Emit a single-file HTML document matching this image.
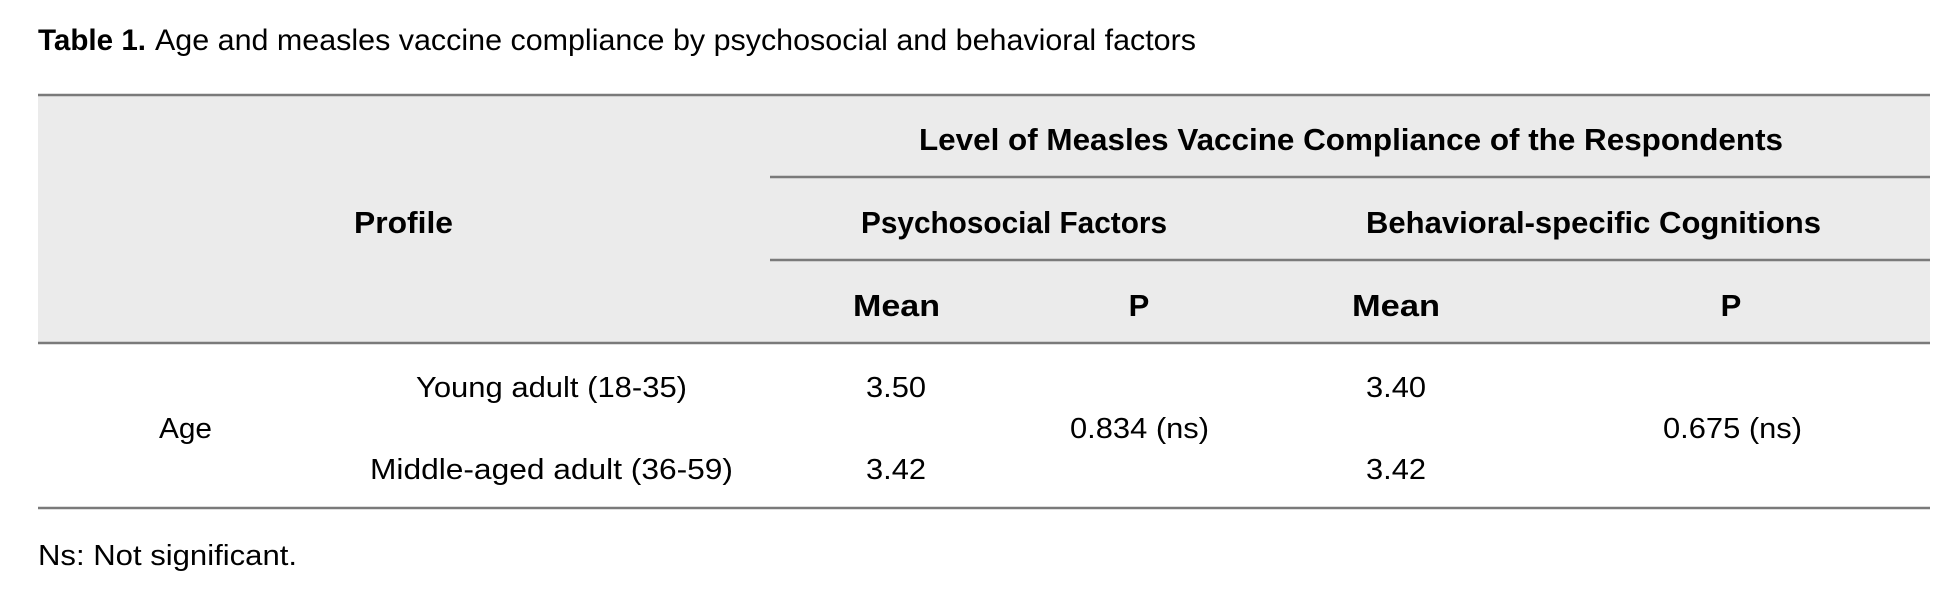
<!DOCTYPE html>
<html><head><meta charset="utf-8"><style>
html,body{margin:0;padding:0;background:#fff;width:1942px;height:610px;overflow:hidden}
svg{display:block}
text{font-family:"Liberation Sans",sans-serif;fill:#000}
.b{font-weight:bold}
</style></head><body>
<svg width="1942" height="610" viewBox="0 0 1942 610" xmlns="http://www.w3.org/2000/svg">
<rect x="38" y="95" width="1892" height="248" fill="#ebebeb"/>
<g stroke="#7a7a7a" stroke-width="2.5">
<line x1="38" y1="95" x2="1930" y2="95"/>
<line x1="770" y1="177" x2="1930" y2="177"/>
<line x1="770" y1="260" x2="1930" y2="260"/>
<line x1="38" y1="343" x2="1930" y2="343"/>
<line x1="38" y1="508" x2="1930" y2="508"/>
</g>
<text class="b" x="38" y="50" font-size="30" textLength="108" lengthAdjust="spacingAndGlyphs">Table 1.</text>
<text x="155" y="50" font-size="30" textLength="1041" lengthAdjust="spacingAndGlyphs">Age and measles vaccine compliance by psychosocial and behavioral factors</text>

<text class="b" x="919" y="150" font-size="31" textLength="864" lengthAdjust="spacingAndGlyphs">Level of Measles Vaccine Compliance of the Respondents</text>
<text class="b" x="354" y="233" font-size="31" textLength="99" lengthAdjust="spacingAndGlyphs">Profile</text>
<text class="b" x="861" y="233" font-size="31" textLength="306" lengthAdjust="spacingAndGlyphs">Psychosocial Factors</text>
<text class="b" x="1366" y="233" font-size="31" textLength="455" lengthAdjust="spacingAndGlyphs">Behavioral-specific Cognitions</text>
<text class="b" x="853" y="316" font-size="31" textLength="87" lengthAdjust="spacingAndGlyphs">Mean</text>
<text class="b" x="1139" y="316" font-size="31" text-anchor="middle">P</text>
<text class="b" x="1352" y="316" font-size="31" textLength="88" lengthAdjust="spacingAndGlyphs">Mean</text>
<text class="b" x="1731" y="316" font-size="31" text-anchor="middle">P</text>

<text x="416" y="397" font-size="29" textLength="271" lengthAdjust="spacingAndGlyphs">Young adult (18-35)</text>
<text x="370" y="479" font-size="29" textLength="363" lengthAdjust="spacingAndGlyphs">Middle-aged adult (36-59)</text>
<text x="159" y="438" font-size="29" textLength="53" lengthAdjust="spacingAndGlyphs">Age</text>
<text x="866" y="397" font-size="29" textLength="60" lengthAdjust="spacingAndGlyphs">3.50</text>
<text x="866" y="479" font-size="29" textLength="60" lengthAdjust="spacingAndGlyphs">3.42</text>
<text x="1366" y="397" font-size="29" textLength="60" lengthAdjust="spacingAndGlyphs">3.40</text>
<text x="1366" y="479" font-size="29" textLength="60" lengthAdjust="spacingAndGlyphs">3.42</text>
<text x="1070" y="438" font-size="29" textLength="139" lengthAdjust="spacingAndGlyphs">0.834 (ns)</text>
<text x="1663" y="438" font-size="29" textLength="139" lengthAdjust="spacingAndGlyphs">0.675 (ns)</text>

<text x="38" y="565" font-size="29" textLength="259" lengthAdjust="spacingAndGlyphs">Ns: Not significant.</text>
</svg>
</body></html>
